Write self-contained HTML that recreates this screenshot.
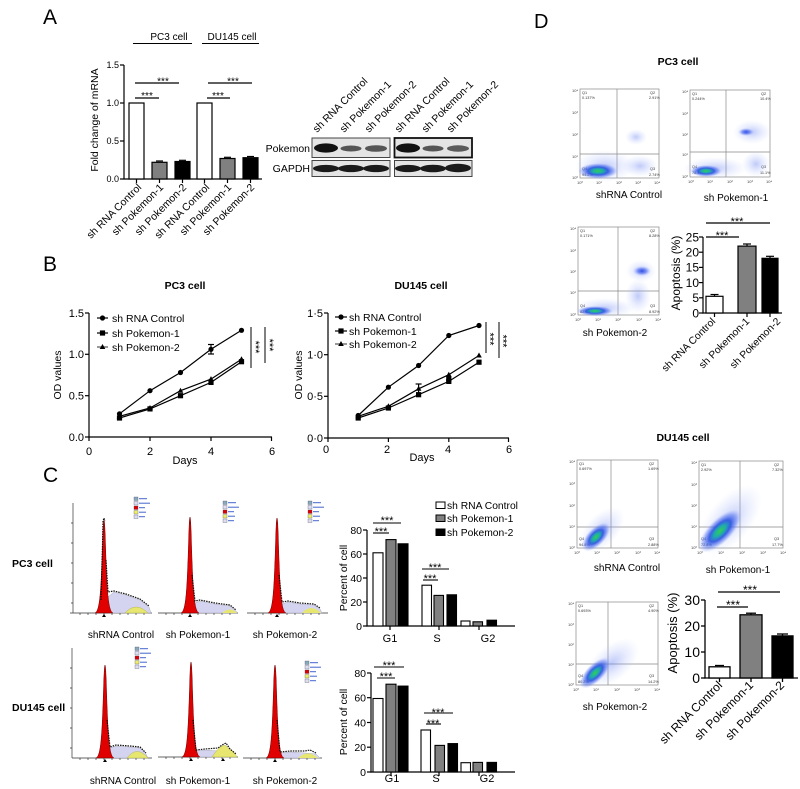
<!DOCTYPE html>
<html><head><meta charset="utf-8"><style>
html,body{margin:0;padding:0;background:#fff;}
svg{display:block;font-family:"Liberation Sans",Arial,sans-serif;}
</style></head><body>
<svg width="800" height="789" viewBox="0 0 800 789" xmlns="http://www.w3.org/2000/svg">
<defs>
<radialGradient id="cl" cx="50%" cy="50%" r="50%">
<stop offset="0" stop-color="#30d050"/>
<stop offset="0.28" stop-color="#20a8b0"/>
<stop offset="0.5" stop-color="#2850e0" stop-opacity="0.9"/>
<stop offset="0.78" stop-color="#5070f0" stop-opacity="0.45"/>
<stop offset="1" stop-color="#a0b0ff" stop-opacity="0"/>
</radialGradient>
<radialGradient id="cb" cx="50%" cy="50%" r="50%">
<stop offset="0" stop-color="#2040e0" stop-opacity="0.9"/>
<stop offset="0.5" stop-color="#4060f0" stop-opacity="0.6"/>
<stop offset="1" stop-color="#a0b0ff" stop-opacity="0"/>
</radialGradient>
<radialGradient id="cf" cx="50%" cy="50%" r="50%">
<stop offset="0" stop-color="#7088f0" stop-opacity="0.45"/>
<stop offset="1" stop-color="#b0c0ff" stop-opacity="0"/>
</radialGradient>
<circle id="mc" r="2.6"/>
<rect id="ms" x="-2.6" y="-2.6" width="5.2" height="5.2"/>
<path id="mt" d="M0,-3 L2.8,2 L-2.8,2 Z"/>
<g id="hleg">
<rect x="0" y="0" width="4" height="3.5" fill="#8ab" stroke="#446" stroke-width="0.3"/><rect x="5" y="1.2" width="8" height="1" fill="#46c"/>
<rect x="0" y="4.5" width="4" height="3.5" fill="#dde" stroke="#446" stroke-width="0.3"/><rect x="5" y="5.7" width="11" height="1" fill="#46c"/>
<rect x="0" y="9" width="4" height="3.5" fill="#d00" stroke="#446" stroke-width="0.3"/><rect x="5" y="10.2" width="6" height="1" fill="#46c"/>
<rect x="0" y="13.5" width="4" height="3.5" fill="#ee6" stroke="#446" stroke-width="0.3"/><rect x="5" y="14.7" width="7" height="1" fill="#46c"/>
<rect x="0" y="18" width="4" height="3.5" fill="#dde" stroke="#446" stroke-width="0.3"/><rect x="5" y="19.2" width="6" height="1" fill="#46c"/>
</g>
</defs>
<rect width="800" height="789" fill="#fff"/>

<!-- Panel letters -->
<text x="43" y="24" font-size="21">A</text>
<text x="43" y="271" font-size="21">B</text>
<text x="43" y="482" font-size="21">C</text>
<text x="534" y="28" font-size="20">D</text>

<!-- ================= PANEL A ================= -->
<g font-size="10" text-anchor="middle">
<text x="169" y="40">PC3 cell</text>
<text x="232" y="40">DU145 cell</text>
</g>
<line x1="133" y1="43.5" x2="192" y2="43.5" stroke="#000" stroke-width="1"/>
<line x1="202" y1="43.5" x2="259" y2="43.5" stroke="#000" stroke-width="1"/>
<g stroke="#000" stroke-width="1.2" fill="none">
<line x1="124" y1="65" x2="124" y2="179.5"/>
<line x1="123.4" y1="179" x2="262" y2="179"/>
<line x1="120" y1="65" x2="124" y2="65"/>
<line x1="120" y1="103" x2="124" y2="103"/>
<line x1="120" y1="141" x2="124" y2="141"/>
<line x1="120" y1="179" x2="124" y2="179"/>
<line x1="136.5" y1="179" x2="136.5" y2="183"/>
<line x1="159.5" y1="179" x2="159.5" y2="183"/>
<line x1="182.5" y1="179" x2="182.5" y2="183"/>
<line x1="204.5" y1="179" x2="204.5" y2="183"/>
<line x1="227.5" y1="179" x2="227.5" y2="183"/>
<line x1="250.5" y1="179" x2="250.5" y2="183"/>
</g>
<g font-size="9" text-anchor="end">
<text x="119" y="68">1.5</text>
<text x="119" y="106">1.0</text>
<text x="119" y="144">0.5</text>
<text x="119" y="182">0.0</text>
</g>
<text transform="translate(98,120) rotate(-90)" text-anchor="middle" font-size="10.5">Fold change of mRNA</text>
<g stroke="#000" stroke-width="1.2">
<rect x="129" y="103" width="15" height="76" fill="#fff"/>
<rect x="152" y="162.3" width="15" height="16.7" fill="#808080"/>
<rect x="175" y="161.5" width="15" height="17.5" fill="#000"/>
<rect x="197" y="103" width="15" height="76" fill="#fff"/>
<rect x="220" y="158.5" width="15" height="20.5" fill="#808080"/>
<rect x="243" y="157.7" width="15" height="21.3" fill="#000"/>
<line x1="156" y1="161" x2="163" y2="161"/>
<line x1="179" y1="160.3" x2="186" y2="160.3"/>
<line x1="224" y1="157.3" x2="231" y2="157.3"/>
<line x1="247" y1="156.5" x2="254" y2="156.5"/>
<line x1="135" y1="98" x2="159" y2="98"/>
<line x1="135" y1="83" x2="179" y2="83"/>
<line x1="207" y1="98" x2="230" y2="98"/>
<line x1="208" y1="83" x2="252" y2="83"/>
</g>
<g font-size="10" text-anchor="middle">
<text x="147" y="99">***</text>
<text x="163" y="84.5">***</text>
<text x="218" y="99">***</text>
<text x="233" y="84.5">***</text>
</g>
<g font-size="10.5" text-anchor="end">
<text transform="translate(142,188) rotate(-45)">sh RNA Control</text>
<text transform="translate(164,188) rotate(-45)">sh Pokemon-1</text>
<text transform="translate(187,188) rotate(-45)">sh Pokemon-2</text>
<text transform="translate(210,188) rotate(-45)">sh RNA Control</text>
<text transform="translate(232,188) rotate(-45)">sh Pokemon-1</text>
<text transform="translate(255,188) rotate(-45)">sh Pokemon-2</text>
</g>

<!-- Western blot -->
<g font-size="10.5">
<text transform="translate(317,133) rotate(-45)">sh RNA Control</text>
<text transform="translate(344,133) rotate(-45)">sh Pokemon-1</text>
<text transform="translate(369,133) rotate(-45)">sh Pokemon-2</text>
<text transform="translate(399,133) rotate(-45)">sh RNA Control</text>
<text transform="translate(426,133) rotate(-45)">sh Pokemon-1</text>
<text transform="translate(451,133) rotate(-45)">sh Pokemon-2</text>
</g>
<g font-size="10.5" text-anchor="end">
<text x="310" y="152">Pokemon</text>
<text x="310" y="172">GAPDH</text>
</g>
<rect x="312" y="138" width="78" height="19.5" fill="#e4e4e4" stroke="#444" stroke-width="1"/>
<rect x="394.5" y="138" width="77.5" height="19.5" fill="#e4e4e4" stroke="#111" stroke-width="1.8"/>
<rect x="312" y="160.5" width="78" height="16" fill="#e4e4e4" stroke="#444" stroke-width="1"/>
<rect x="394.5" y="160.5" width="77.5" height="16" fill="#e4e4e4" stroke="#444" stroke-width="1"/>
<g>
<ellipse cx="326" cy="148" rx="12" ry="4.6" fill="#111"/>
<ellipse cx="351" cy="148.5" rx="10.5" ry="3" fill="#555"/>
<ellipse cx="376" cy="148.5" rx="11" ry="3.3" fill="#555"/>
<ellipse cx="408" cy="148" rx="12" ry="4.6" fill="#111"/>
<ellipse cx="433" cy="148.5" rx="10.5" ry="3" fill="#555"/>
<ellipse cx="458" cy="148.5" rx="11" ry="3.2" fill="#5a5a5a"/>
<ellipse cx="326" cy="168.5" rx="13" ry="3.6" fill="#1a1a1a"/>
<ellipse cx="351" cy="168.5" rx="13" ry="3.6" fill="#1a1a1a"/>
<ellipse cx="376" cy="168.5" rx="13" ry="3.6" fill="#1a1a1a"/>
<ellipse cx="408" cy="168.5" rx="13" ry="3.6" fill="#1a1a1a"/>
<ellipse cx="433" cy="168.5" rx="13" ry="3.8" fill="#1a1a1a"/>
<ellipse cx="458" cy="168" rx="13" ry="4.2" fill="#1a1a1a"/>
</g>

<!-- ================= PANEL B ================= -->
<g font-size="10.5" font-weight="bold" text-anchor="middle">
<text x="185" y="289">PC3 cell</text>
<text x="421" y="289">DU145 cell</text>
</g>
<!-- PC3 axes -->
<g stroke="#000" stroke-width="1.2">
<line x1="89" y1="313" x2="89" y2="437.6"/>
<line x1="88.4" y1="437" x2="272" y2="437"/>
<line x1="85" y1="313" x2="89" y2="313"/>
<line x1="85" y1="354.3" x2="89" y2="354.3"/>
<line x1="85" y1="395.7" x2="89" y2="395.7"/>
<line x1="85" y1="437" x2="89" y2="437"/>
<line x1="89" y1="437" x2="89" y2="441"/>
<line x1="150" y1="437" x2="150" y2="441"/>
<line x1="211" y1="437" x2="211" y2="441"/>
<line x1="271.5" y1="437" x2="271.5" y2="441"/>
</g>
<g font-size="11" text-anchor="end">
<text x="84" y="317">1.5</text>
<text x="84" y="358">1.0</text>
<text x="84" y="399.5">0.5</text>
<text x="84" y="441">0.0</text>
</g>
<g font-size="11" text-anchor="middle">
<text x="89" y="455">0</text>
<text x="150" y="455">2</text>
<text x="211" y="455">4</text>
<text x="272" y="455">6</text>
<text x="185" y="464">Days</text>
</g>
<text transform="translate(61,375) rotate(-90)" text-anchor="middle" font-size="10.5">OD values</text>
<g fill="none" stroke="#000" stroke-width="1.2">
<polyline points="119.5,413.8 150,390.7 180.5,372.5 211,349.3 241.5,330.3"/>
<polyline points="119.5,418 150,408.9 180.5,395.7 211,382.4 241.5,361.7"/>
<polyline points="119.5,416.3 150,408 180.5,390.7 211,379.1 241.5,359.3"/>
<line x1="211" y1="344.5" x2="211" y2="354"/>
<line x1="208" y1="344.5" x2="214" y2="344.5"/>
<line x1="208" y1="354" x2="214" y2="354"/>
</g>
<g fill="#000">
<use href="#mc" x="119.5" y="413.8"/><use href="#mc" x="150" y="390.7"/><use href="#mc" x="180.5" y="372.5"/><use href="#mc" x="211" y="349.3"/><use href="#mc" x="241.5" y="330.3"/>
<use href="#ms" x="119.5" y="418"/><use href="#ms" x="150" y="408.9"/><use href="#ms" x="180.5" y="395.7"/><use href="#ms" x="211" y="382.4"/><use href="#ms" x="241.5" y="361.7"/>
<use href="#mt" x="119.5" y="416.3"/><use href="#mt" x="150" y="408"/><use href="#mt" x="180.5" y="390.7"/><use href="#mt" x="211" y="379.1"/><use href="#mt" x="241.5" y="359.3"/>
</g>
<!-- PC3 legend -->
<g stroke="#000" stroke-width="1.2">
<line x1="97" y1="318" x2="108" y2="318"/>
<line x1="97" y1="333" x2="108" y2="333"/>
<line x1="97" y1="347" x2="108" y2="347" stroke="#555"/>
</g>
<use href="#mc" x="102.5" y="318"/>
<use href="#ms" x="102.5" y="333"/>
<use href="#mt" x="102.5" y="347"/>
<g font-size="10.5">
<text x="112" y="322">sh RNA Control</text>
<text x="112" y="337">sh Pokemon-1</text>
<text x="112" y="351">sh Pokemon-2</text>
</g>
<g stroke="#000" stroke-width="1">
<line x1="251" y1="327" x2="251" y2="368"/>
<line x1="265" y1="327" x2="265" y2="363"/>
</g>
<g font-size="11" text-anchor="middle">
<text transform="translate(252,347) rotate(90)">***</text>
<text transform="translate(266,345) rotate(90)">***</text>
</g>

<!-- DU145 axes -->
<g stroke="#000" stroke-width="1.2">
<line x1="328" y1="313" x2="328" y2="438.6"/>
<line x1="327.4" y1="438" x2="509" y2="438"/>
<line x1="324" y1="313" x2="328" y2="313"/>
<line x1="324" y1="354.7" x2="328" y2="354.7"/>
<line x1="324" y1="396.3" x2="328" y2="396.3"/>
<line x1="324" y1="438" x2="328" y2="438"/>
<line x1="328" y1="438" x2="328" y2="442"/>
<line x1="388.4" y1="438" x2="388.4" y2="442"/>
<line x1="448.8" y1="438" x2="448.8" y2="442"/>
<line x1="508.5" y1="438" x2="508.5" y2="442"/>
</g>
<g font-size="11" text-anchor="end">
<text x="323" y="317">1·5</text>
<text x="323" y="358.5">1·0</text>
<text x="323" y="400">0·5</text>
<text x="323" y="442">0·0</text>
</g>
<g font-size="11" text-anchor="middle">
<text x="326" y="453">0</text>
<text x="387" y="453">2</text>
<text x="448" y="453">4</text>
<text x="509" y="453">6</text>
<text x="422" y="461">Days</text>
</g>
<text transform="translate(302,375) rotate(-90)" text-anchor="middle" font-size="10.5">OD values</text>
<g fill="none" stroke="#000" stroke-width="1.2">
<polyline points="358.2,415.5 388.4,387.2 418.6,365.5 448.8,335.5 479,325.5"/>
<polyline points="358.2,418 388.4,408 418.6,394.7 448.8,381.4 479,362.2"/>
<polyline points="358.2,416.3 388.4,406.3 418.6,388.8 448.8,374.7 479,355.5"/>
<line x1="418.6" y1="384" x2="418.6" y2="393"/>
<line x1="415.6" y1="384" x2="421.6" y2="384"/>
</g>
<g fill="#000">
<use href="#mc" x="358.2" y="415.5"/><use href="#mc" x="388.4" y="387.2"/><use href="#mc" x="418.6" y="365.5"/><use href="#mc" x="448.8" y="335.5"/><use href="#mc" x="479" y="325.5"/>
<use href="#ms" x="358.2" y="418"/><use href="#ms" x="388.4" y="408"/><use href="#ms" x="418.6" y="394.7"/><use href="#ms" x="448.8" y="381.4"/><use href="#ms" x="448.8" y="379"/><use href="#ms" x="479" y="362.2"/>
<use href="#mt" x="358.2" y="416.3"/><use href="#mt" x="388.4" y="406.3"/><use href="#mt" x="418.6" y="388.8"/><use href="#mt" x="448.8" y="374.7"/><use href="#mt" x="479" y="355.5"/>
</g>
<g stroke="#000" stroke-width="1.2">
<line x1="335" y1="317" x2="347" y2="317"/>
<line x1="335" y1="331" x2="347" y2="331"/>
<line x1="335" y1="344" x2="347" y2="344" stroke="#555"/>
</g>
<use href="#mc" x="341" y="317"/>
<use href="#ms" x="341" y="331"/>
<use href="#mt" x="341" y="344"/>
<g font-size="10.5">
<text x="349" y="321">sh RNA Control</text>
<text x="349" y="335">sh Pokemon-1</text>
<text x="349" y="348">sh Pokemon-2</text>
</g>
<g stroke="#000" stroke-width="1">
<line x1="486" y1="322" x2="486" y2="353"/>
<line x1="499" y1="322" x2="499" y2="358"/>
</g>
<g font-size="11" text-anchor="middle">
<text transform="translate(486.5,339) rotate(90)">***</text>
<text transform="translate(499.5,341) rotate(90)">***</text>
</g>

<!-- ================= PANEL C ================= -->
<g font-size="10.5" font-weight="bold">
<text x="12" y="567">PC3 cell</text>
<text x="12" y="711">DU145 cell</text>
</g>
<g font-size="10" text-anchor="middle">
<text x="121" y="638">shRNA Control</text>
<text x="198" y="638">sh Pokemon-1</text>
<text x="285" y="638">sh Pokemon-2</text>
<text x="123" y="784">shRNA Control</text>
<text x="198" y="784">sh Pokemon-1</text>
<text x="285" y="784">sh Pokemon-2</text>
</g>

<!-- Histogram row1 P1 -->
<g stroke="#333" stroke-width="0.7" fill="none">
<line x1="73" y1="503" x2="73" y2="613"/>
<line x1="70" y1="613" x2="152" y2="613"/>
<path d="M73,523h-2M73,543h-2M73,563h-2M73,583h-2M73,603h-2" />
<path d="M80,613v2M88,613v2M96,613v2M104,613v2M112,613v2M120,613v2M128,613v2M136,613v2M144,613v2"/>
</g>
<path d="M108,613 L108,597 L114,592 L126,595 L140,600 L149,607 L151,613 Z" fill="#d4d4f0" stroke="#99a" stroke-width="0.4"/>
<path d="M125,613 Q136,601 148,613 Z" fill="#e6e670" stroke="#aa4" stroke-width="0.4"/>
<path d="M95,613 C100,611 101,590 102.5,545 C103,527 103.5,520 104,520 C104.5,520 105,527 105.5,545 C107,590 108,611 113,613 Z" fill="#e00000" stroke="#600" stroke-width="0.5"/>
<path d="M101,600 L102.5,545 L103,521 L104,518 L105,521 M106,560 L108,592 L114,591 L126,594 L140,599 L149,606" fill="none" stroke="#111" stroke-width="1.2" stroke-dasharray="1.5,1"/>
<path d="M102,617 L104,614 L106,617 Z" fill="#000"/>
<use href="#hleg" x="134" y="497"/>

<!-- Histogram row1 P2 -->
<g stroke="#333" stroke-width="0.7" fill="none">
<line x1="158" y1="613" x2="238" y2="613"/>
<path d="M166,613v2M174,613v2M182,613v2M190,613v2M198,613v2M206,613v2M214,613v2M222,613v2M230,613v2"/>
</g>
<path d="M195,613 L195,603 L200,601 L215,604 L230,606 L236,611 L237,613 Z" fill="#d4d4f0" stroke="#99a" stroke-width="0.4"/>
<path d="M222,613 Q230,606 237,613 Z" fill="#e6e670"/>
<path d="M181,613 C186,611 187,590 188.5,545 C189,525 189.5,517 190,517 C190.5,517 191,525 191.5,545 C193,590 194,611 199,613 Z" fill="#e00000" stroke="#600" stroke-width="0.5"/>
<path d="M192,575 L195,601 L200,600 L215,603 L230,605 L236,610" fill="none" stroke="#111" stroke-width="1.2" stroke-dasharray="1.5,1"/>
<path d="M188,617 L190,614 L192,617 Z" fill="#000"/>
<use href="#hleg" x="223" y="501"/>

<!-- Histogram row1 P3 -->
<g stroke="#333" stroke-width="0.7" fill="none">
<line x1="247" y1="613" x2="328" y2="613"/>
<path d="M255,613v2M263,613v2M271,613v2M279,613v2M287,613v2M295,613v2M303,613v2M311,613v2M319,613v2"/>
</g>
<path d="M282,613 L282,604 L288,602 L300,604 L314,605 L320,609 L322,613 Z" fill="#d4d4f0" stroke="#99a" stroke-width="0.4"/>
<path d="M302,613 Q311,603 321,613 Z" fill="#e6e670"/>
<path d="M268,613 C273,611 274,590 275.5,545 C276,525 276.5,518 277,518 C277.5,518 278,525 278.5,545 C280,590 281,611 286,613 Z" fill="#e00000" stroke="#600" stroke-width="0.5"/>
<path d="M279,575 L282,602 L288,601 L300,603 L314,604 L320,608" fill="none" stroke="#111" stroke-width="1.2" stroke-dasharray="1.5,1"/>
<path d="M275,617 L277,614 L279,617 Z" fill="#000"/>
<use href="#hleg" x="308" y="501"/>

<!-- Histogram row2 P1 -->
<g stroke="#333" stroke-width="0.7" fill="none">
<line x1="72" y1="648" x2="72" y2="758"/>
<line x1="72" y1="758" x2="152" y2="758"/>
<path d="M72,668h-2M72,688h-2M72,708h-2M72,728h-2M72,748h-2"/>
<path d="M80,758v2M88,758v2M96,758v2M104,758v2M112,758v2M120,758v2M128,758v2M136,758v2M144,758v2"/>
</g>
<path d="M110,758 L110,748 L116,746 L130,747 L140,748 L146,754 L148,758 Z" fill="#d4d4f0" stroke="#99a" stroke-width="0.4"/>
<path d="M127,758 Q137,745 148,758 Z" fill="#e6e670" stroke="#aa4" stroke-width="0.4"/>
<path d="M96,758 C101,756 102,735 103.5,690 C104,672 104.5,665 105,665 C105.5,665 106,672 106.5,690 C108,735 109,756 114,758 Z" fill="#e00000" stroke="#600" stroke-width="0.5"/>
<path d="M107,720 L110,747 L116,745 L130,746 L140,747 L146,753" fill="none" stroke="#111" stroke-width="1.2" stroke-dasharray="1.5,1"/>
<path d="M103,762 L105,759 L107,762 Z" fill="#000"/>
<use href="#hleg" x="135" y="647"/>

<!-- Histogram row2 P2 -->
<g stroke="#333" stroke-width="0.7" fill="none">
<line x1="158" y1="757" x2="238" y2="757"/>
<path d="M166,757v2M174,757v2M182,757v2M190,757v2M198,757v2M206,757v2M214,757v2M222,757v2M230,757v2"/>
</g>
<path d="M196,757 L196,751 L205,750 L218,751 L232,752 L236,757 Z" fill="#d4d4f0" stroke="#99a" stroke-width="0.4"/>
<path d="M212,757 Q218,748 222,746 Q226,744 228,748 Q233,750 237,757 Z" fill="#e6e670" stroke="#aa4" stroke-width="0.4"/>
<path d="M182,757 C187,755 188,734 189.5,690 C190,670 190.5,662 191,662 C191.5,662 192,670 192.5,690 C194,734 195,755 200,757 Z" fill="#e00000" stroke="#600" stroke-width="0.5"/>
<path d="M193,720 L196,750 L205,749 L218,748 L222,745 L226,743 L230,749 L236,754" fill="none" stroke="#111" stroke-width="1.2" stroke-dasharray="1.5,1"/>
<path d="M189,761 L191,758 L193,761 Z" fill="#000"/>
<path d="M221,761 L223,758 L225,761 Z" fill="#000"/>

<!-- Histogram row2 P3 -->
<g stroke="#333" stroke-width="0.7" fill="none">
<line x1="243" y1="758" x2="322" y2="758"/>
<path d="M251,758v2M259,758v2M267,758v2M275,758v2M283,758v2M291,758v2M299,758v2M307,758v2M315,758v2"/>
</g>
<path d="M280,758 L280,753 L290,752 L305,753 L316,754 L320,758 Z" fill="#d4d4f0" stroke="#99a" stroke-width="0.4"/>
<path d="M298,758 Q308,749 318,758 Z" fill="#e6e670"/>
<path d="M266,758 C271,756 272,735 273.5,690 C274,672 274.5,665 275,665 C275.5,665 276,672 276.5,690 C278,735 279,756 284,758 Z" fill="#e00000" stroke="#600" stroke-width="0.5"/>
<path d="M277,720 L280,752 L290,751 L305,751 L310,750 L316,753" fill="none" stroke="#111" stroke-width="1.2" stroke-dasharray="1.5,1"/>
<path d="M273,762 L275,759 L277,762 Z" fill="#000"/>
<use href="#hleg" x="305" y="661"/>

<!-- Panel C bar chart 1 -->
<g stroke="#000" stroke-width="1">
<rect x="436" y="502" width="9" height="6.5" fill="#fff"/>
<rect x="436" y="515" width="9" height="6.5" fill="#808080"/>
<rect x="436" y="529" width="9" height="6.5" fill="#000"/>
</g>
<g font-size="10.3">
<text x="447" y="509">sh RNA Control</text>
<text x="447" y="522">sh Pokemon-1</text>
<text x="447" y="536">sh Pokemon-2</text>
</g>
<g stroke="#000" stroke-width="1.2">
<line x1="367" y1="530" x2="367" y2="626.6"/>
<line x1="366.4" y1="626" x2="515" y2="626"/>
<line x1="363" y1="530" x2="367" y2="530"/>
<line x1="363" y1="554" x2="367" y2="554"/>
<line x1="363" y1="578" x2="367" y2="578"/>
<line x1="363" y1="602" x2="367" y2="602"/>
<line x1="363" y1="626" x2="367" y2="626"/>
<line x1="390" y1="626" x2="390" y2="630"/>
<line x1="439" y1="626" x2="439" y2="630"/>
<line x1="479" y1="626" x2="479" y2="630"/>
</g>
<g font-size="10.5" text-anchor="end">
<text x="362" y="534">80</text>
<text x="362" y="558">60</text>
<text x="362" y="582">40</text>
<text x="362" y="606">20</text>
<text x="362" y="630">0</text>
</g>
<text transform="translate(347,578) rotate(-90)" text-anchor="middle" font-size="10.5">Percent of cell</text>
<g stroke="#000" stroke-width="1.1">
<rect x="373" y="552.8" width="10" height="73.2" fill="#fff"/>
<rect x="386" y="539.6" width="10" height="86.4" fill="#808080"/>
<rect x="398" y="543.8" width="10" height="82.2" fill="#000"/>
<rect x="422" y="585.2" width="9.5" height="40.8" fill="#fff"/>
<rect x="434" y="595.4" width="9.5" height="30.6" fill="#808080"/>
<rect x="447" y="594.8" width="9.5" height="31.2" fill="#000"/>
<rect x="461" y="621" width="9" height="5" fill="#fff"/>
<rect x="473" y="621.8" width="9.5" height="4.2" fill="#808080"/>
<rect x="487" y="620.2" width="9.5" height="5.8" fill="#000"/>
<line x1="373" y1="533" x2="389" y2="533"/>
<line x1="373" y1="523" x2="401" y2="523"/>
<line x1="423" y1="580" x2="438" y2="580"/>
<line x1="422" y1="569" x2="449" y2="569"/>
</g>
<g font-size="11" text-anchor="middle">
<text x="381" y="535">***</text>
<text x="387" y="524">***</text>
<text x="430" y="582">***</text>
<text x="435" y="571">***</text>
</g>
<g font-size="11" text-anchor="middle">
<text x="390" y="642">G1</text>
<text x="437" y="642">S</text>
<text x="488" y="642">G2</text>
</g>

<!-- Panel C bar chart 2 -->
<g stroke="#000" stroke-width="1.2">
<line x1="371" y1="673" x2="371" y2="772.6"/>
<line x1="370.4" y1="772" x2="515" y2="772"/>
<line x1="367" y1="673" x2="371" y2="673"/>
<line x1="367" y1="697.7" x2="371" y2="697.7"/>
<line x1="367" y1="722.5" x2="371" y2="722.5"/>
<line x1="367" y1="747.2" x2="371" y2="747.2"/>
<line x1="367" y1="772" x2="371" y2="772"/>
<line x1="391" y1="772" x2="391" y2="776"/>
<line x1="439" y1="772" x2="439" y2="776"/>
<line x1="479" y1="772" x2="479" y2="776"/>
</g>
<g font-size="10.5" text-anchor="end">
<text x="366" y="677">80</text>
<text x="366" y="701.5">60</text>
<text x="366" y="726.5">40</text>
<text x="366" y="751">20</text>
<text x="366" y="776">0</text>
</g>
<text transform="translate(347,722) rotate(-90)" text-anchor="middle" font-size="10.5">Percent of cell</text>
<g stroke="#000" stroke-width="1.1">
<rect x="373" y="698.5" width="10" height="73.5" fill="#fff"/>
<rect x="386" y="684.2" width="10" height="87.8" fill="#808080"/>
<rect x="398" y="686.1" width="10" height="85.9" fill="#000"/>
<rect x="421" y="730" width="9.5" height="42" fill="#fff"/>
<rect x="435" y="745.4" width="9.5" height="26.6" fill="#808080"/>
<rect x="448" y="743.6" width="9.5" height="28.4" fill="#000"/>
<rect x="461" y="762.7" width="9.5" height="9.3" fill="#fff"/>
<rect x="473" y="762.4" width="9.5" height="9.6" fill="#808080"/>
<rect x="487" y="762.4" width="9.5" height="9.6" fill="#000"/>
<line x1="377" y1="678" x2="395" y2="678"/>
<line x1="374" y1="667" x2="404" y2="667"/>
<line x1="426" y1="724" x2="441" y2="724"/>
<line x1="424" y1="713" x2="453" y2="713"/>
</g>
<g font-size="11" text-anchor="middle">
<text x="386" y="680">***</text>
<text x="389" y="669">***</text>
<text x="433" y="727">***</text>
<text x="438" y="716">***</text>
</g>
<g font-size="11" text-anchor="middle">
<text x="392" y="782">G1</text>
<text x="436" y="782">S</text>
<text x="487" y="782">G2</text>
</g>

<!-- ================= PANEL D ================= -->
<g font-size="10.5" font-weight="bold" text-anchor="middle">
<text x="678" y="65">PC3 cell</text>
<text x="683" y="441">DU145 cell</text>
</g>

<!-- flow plots: frames -->
<g fill="none" stroke="#888" stroke-width="0.7">
<rect x="580" y="89" width="79" height="89"/>
<line x1="617" y1="89" x2="617" y2="178"/><line x1="580" y1="154" x2="659" y2="154"/>
<rect x="690" y="90" width="80" height="87"/>
<line x1="726" y1="90" x2="726" y2="177"/><line x1="690" y1="152" x2="770" y2="152"/>
<rect x="578" y="227" width="81" height="88"/>
<line x1="618" y1="227" x2="618" y2="315"/><line x1="578" y1="291" x2="659" y2="291"/>
<rect x="577" y="460" width="81" height="88"/>
<line x1="611" y1="460" x2="611" y2="548"/><line x1="577" y1="527" x2="658" y2="527"/>
<rect x="699" y="461" width="84" height="87"/>
<line x1="740" y1="461" x2="740" y2="548"/><line x1="699" y1="527" x2="783" y2="527"/>
<rect x="576" y="602" width="82" height="83"/>
<line x1="608" y1="602" x2="608" y2="685"/><line x1="576" y1="664" x2="658" y2="664"/>
</g>

<!-- flow tick labels (tiny) -->
<g font-size="4" fill="#444">
<text x="572" y="92">10⁴</text><text x="572" y="114">10³</text><text x="572" y="136">10²</text><text x="572" y="158">10¹</text><text x="572" y="179">10⁰</text>
<text x="577" y="184">10⁰</text><text x="596" y="184">10¹</text><text x="616" y="184">10²</text><text x="635" y="184">10³</text><text x="654" y="184">10⁴</text>
<text x="682" y="93">10⁴</text><text x="682" y="115">10³</text><text x="682" y="136">10²</text><text x="682" y="156">10¹</text><text x="682" y="178">10⁰</text>
<text x="688" y="183">10⁰</text><text x="707" y="183">10¹</text><text x="727" y="183">10²</text><text x="747" y="183">10³</text><text x="766" y="183">10⁴</text>
<text x="570" y="230">10⁴</text><text x="570" y="252">10³</text><text x="570" y="273">10²</text><text x="570" y="294">10¹</text><text x="570" y="316">10⁰</text>
<text x="575" y="321">10⁰</text><text x="595" y="321">10¹</text><text x="615" y="321">10²</text><text x="636" y="321">10³</text><text x="655" y="321">10⁴</text>
<text x="569" y="463">10⁴</text><text x="569" y="485">10³</text><text x="569" y="507">10²</text><text x="569" y="528">10¹</text><text x="569" y="549">10⁰</text>
<text x="574" y="554">10⁰</text><text x="594" y="554">10¹</text><text x="614" y="554">10²</text><text x="635" y="554">10³</text><text x="654" y="554">10⁴</text>
<text x="691" y="464">10⁴</text><text x="691" y="486">10³</text><text x="691" y="507">10²</text><text x="691" y="528">10¹</text><text x="691" y="549">10⁰</text>
<text x="697" y="554">10⁰</text><text x="718" y="554">10¹</text><text x="739" y="554">10²</text><text x="760" y="554">10³</text><text x="780" y="554">10⁴</text>
<text x="568" y="605">10⁴</text><text x="568" y="626">10³</text><text x="568" y="646">10²</text><text x="568" y="666">10¹</text><text x="568" y="686">10⁰</text>
<text x="573" y="691">10⁰</text><text x="593" y="691">10¹</text><text x="614" y="691">10²</text><text x="634" y="691">10³</text><text x="654" y="691">10⁴</text>
</g>
<!-- quadrant labels -->
<g font-size="3.8" fill="#333">
<text x="582" y="94">Q1</text><text x="582" y="99">0.137%</text><text x="650" y="94">Q2</text><text x="649" y="99">2.91%</text>
<text x="582" y="170">Q4</text><text x="582" y="176">94.2%</text><text x="650" y="170">Q3</text><text x="649" y="176">2.74%</text>
<text x="692" y="95">Q1</text><text x="692" y="100">0.244%</text><text x="761" y="95">Q2</text><text x="760" y="100">10.4%</text>
<text x="692" y="168">Q4</text><text x="692" y="174">78.3%</text><text x="761" y="168">Q3</text><text x="760" y="174">11.1%</text>
<text x="580" y="232">Q1</text><text x="580" y="237">0.171%</text><text x="650" y="232">Q2</text><text x="649" y="237">8.28%</text>
<text x="580" y="307">Q4</text><text x="580" y="313">82.6%</text><text x="650" y="307">Q3</text><text x="649" y="313">8.92%</text>
<text x="579" y="465">Q1</text><text x="579" y="470">0.697%</text><text x="649" y="465">Q2</text><text x="648" y="470">1.69%</text>
<text x="579" y="540">Q4</text><text x="579" y="546">94.8%</text><text x="649" y="540">Q3</text><text x="648" y="546">2.88%</text>
<text x="701" y="466">Q1</text><text x="701" y="471">2.92%</text><text x="774" y="466">Q2</text><text x="772" y="471">7.32%</text>
<text x="701" y="540">Q4</text><text x="701" y="546">72.8%</text><text x="774" y="540">Q3</text><text x="772" y="546">17.7%</text>
<text x="578" y="607">Q1</text><text x="578" y="612">0.693%</text><text x="649" y="607">Q2</text><text x="648" y="612">4.90%</text>
<text x="578" y="677">Q4</text><text x="578" y="683">80.2%</text><text x="649" y="677">Q3</text><text x="648" y="683">14.2%</text>
</g>

<!-- clusters -->
<ellipse cx="605" cy="166" rx="30" ry="16" fill="url(#cf)"/>
<ellipse cx="640" cy="166" rx="18" ry="11" fill="url(#cf)"/>
<ellipse cx="636" cy="137" rx="11" ry="8" fill="url(#cf)"/>
<ellipse cx="598" cy="171" rx="20" ry="8" fill="url(#cl)"/>

<ellipse cx="715" cy="168" rx="32" ry="11" fill="url(#cf)"/>
<ellipse cx="752" cy="132" rx="19" ry="12" fill="url(#cf)"/>
<ellipse cx="746" cy="132" rx="8" ry="4" fill="url(#cb)"/>
<ellipse cx="756" cy="164" rx="14" ry="13" fill="url(#cf)"/>
<ellipse cx="706" cy="171" rx="16" ry="6" fill="url(#cl)"/>

<ellipse cx="605" cy="308" rx="30" ry="10" fill="url(#cf)"/>
<ellipse cx="638" cy="296" rx="13" ry="17" fill="url(#cf)"/>
<ellipse cx="641" cy="271" rx="15" ry="11" fill="url(#cf)"/>
<ellipse cx="642" cy="271" rx="9" ry="5" fill="url(#cb)"/>
<ellipse cx="595" cy="311" rx="18" ry="5" fill="url(#cl)"/>

<ellipse cx="602" cy="530" rx="28" ry="16" fill="url(#cf)" transform="rotate(-45 602 530)"/>
<ellipse cx="596" cy="537" rx="18" ry="9" fill="url(#cl)" transform="rotate(-45 596 537)"/>

<ellipse cx="730" cy="520" rx="42" ry="22" fill="url(#cf)" transform="rotate(-50 730 520)"/>
<ellipse cx="720" cy="531" rx="28" ry="12" fill="url(#cl)" transform="rotate(-45 720 531)"/>

<ellipse cx="612" cy="663" rx="32" ry="18" fill="url(#cf)" transform="rotate(-40 612 663)"/>
<ellipse cx="595" cy="673" rx="20" ry="9" fill="url(#cl)" transform="rotate(-45 595 673)"/>

<g font-size="10" text-anchor="middle">
<text x="629" y="198">shRNA Control</text>
<text x="736" y="201">sh Pokemon-1</text>
<text x="615" y="336">sh Pokemon-2</text>
<text x="627" y="571">shRNA Control</text>
<text x="738" y="573">sh Pokemon-1</text>
<text x="615" y="710">sh Pokemon-2</text>
</g>

<!-- D top bar chart -->
<g stroke="#000" stroke-width="1.2">
<line x1="703" y1="237" x2="703" y2="313.6"/>
<line x1="702.4" y1="313" x2="782" y2="313"/>
<line x1="699" y1="237" x2="703" y2="237"/>
<line x1="699" y1="252.2" x2="703" y2="252.2"/>
<line x1="699" y1="267.4" x2="703" y2="267.4"/>
<line x1="699" y1="282.6" x2="703" y2="282.6"/>
<line x1="699" y1="297.8" x2="703" y2="297.8"/>
<line x1="699" y1="313" x2="703" y2="313"/>
<line x1="714.5" y1="313" x2="714.5" y2="317"/>
<line x1="747" y1="313" x2="747" y2="317"/>
<line x1="770" y1="313" x2="770" y2="317"/>
</g>
<g font-size="12" text-anchor="end">
<text x="699" y="241.5">25</text>
<text x="699" y="256.5">20</text>
<text x="699" y="271.5">15</text>
<text x="699" y="287">10</text>
<text x="699" y="302">5</text>
<text x="699" y="317.5">0</text>
</g>
<text transform="translate(680,273) rotate(-90)" text-anchor="middle" font-size="12">Apoptosis (%)</text>
<g stroke="#000" stroke-width="1.2">
<rect x="706" y="296.3" width="17" height="16.7" fill="#fff"/>
<rect x="738" y="246.1" width="18" height="66.9" fill="#808080"/>
<rect x="762" y="258.3" width="16" height="54.7" fill="#000"/>
<line x1="714.5" y1="294.5" x2="714.5" y2="296.3"/><line x1="710.5" y1="294.5" x2="718.5" y2="294.5"/>
<line x1="747" y1="244" x2="747" y2="246"/><line x1="743" y1="244" x2="751" y2="244"/>
<line x1="770" y1="256.3" x2="770" y2="258.3"/><line x1="766" y1="256.3" x2="774" y2="256.3"/>
<line x1="706" y1="237" x2="739" y2="237"/>
<line x1="706" y1="223" x2="770" y2="223"/>
</g>
<g font-size="11" text-anchor="middle">
<text x="722" y="239">***</text>
<text x="737" y="225">***</text>
</g>
<g font-size="10.3" text-anchor="end">
<text transform="translate(716,322) rotate(-45)">sh RNA Control</text>
<text transform="translate(750,322) rotate(-45)">sh Pokemon-1</text>
<text transform="translate(781,322) rotate(-45)">sh Pokemon-2</text>
</g>

<!-- D bottom bar chart -->
<g stroke="#000" stroke-width="1.3">
<line x1="705" y1="600" x2="705" y2="678.6"/>
<line x1="704.4" y1="678" x2="798" y2="678"/>
<line x1="701" y1="600" x2="705" y2="600"/>
<line x1="701" y1="626" x2="705" y2="626"/>
<line x1="701" y1="652" x2="705" y2="652"/>
<line x1="701" y1="678" x2="705" y2="678"/>
<line x1="719.5" y1="678" x2="719.5" y2="682"/>
<line x1="751" y1="678" x2="751" y2="682"/>
<line x1="782.5" y1="678" x2="782.5" y2="682"/>
</g>
<g font-size="14" text-anchor="end">
<text x="700" y="605">30</text>
<text x="700" y="631">20</text>
<text x="700" y="657">10</text>
<text x="700" y="683">0</text>
</g>
<text transform="translate(677,633) rotate(-90)" text-anchor="middle" font-size="13">Apoptosis (%)</text>
<g stroke="#000" stroke-width="1.3">
<rect x="709" y="666.8" width="21" height="11.2" fill="#fff"/>
<rect x="740" y="614.8" width="22" height="63.2" fill="#808080"/>
<rect x="772" y="635.9" width="21" height="42.1" fill="#000"/>
<line x1="715" y1="665.5" x2="724" y2="665.5"/>
<line x1="746" y1="613.2" x2="756" y2="613.2"/>
<line x1="751" y1="613.2" x2="751" y2="614.8"/>
<line x1="777" y1="634" x2="788" y2="634"/>
<line x1="782.5" y1="634" x2="782.5" y2="636"/>
<line x1="717" y1="607" x2="748" y2="607"/>
<line x1="718" y1="592" x2="780" y2="592"/>
</g>
<g font-size="12" text-anchor="middle">
<text x="733" y="609">***</text>
<text x="750" y="594">***</text>
</g>
<g font-size="12" text-anchor="end">
<text transform="translate(723,686) rotate(-45)">sh RNA Control</text>
<text transform="translate(754,686) rotate(-45)">sh Pokemon-1</text>
<text transform="translate(785,686) rotate(-45)">sh Pokemon-2</text>
</g>
</svg>
</body></html>
